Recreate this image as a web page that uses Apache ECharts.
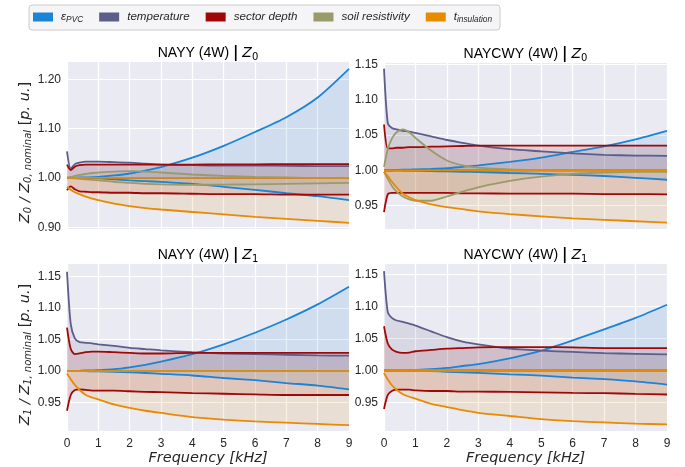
<!DOCTYPE html>
<html><head><meta charset="utf-8">
<script src="https://cdn.jsdelivr.net/npm/echarts@6/dist/echarts.min.js"></script>
<style>html,body{margin:0;padding:0;background:#fff}#c{width:685px;height:467px}</style>
</head><body><div id="c"></div>
<script>
// ---------- data ----------
const freq = [0,0.12,0.25,0.4,0.6,0.8,1,1.5,2,2.5,3,4,5,6,7,8,9];
const xTicks = [0,1,2,3,4,5,6,7,8,9];
const yTicksTL = [0.90,1.00,1.10,1.20];
const yTicksOther = [0.95,1.00,1.05,1.10,1.15];

// NAYY (4W) | Z0
const nayyZ0_epsHi  = [1.000,1.000,1.0005,1.001,1.001,1.0015,1.002,1.005,1.009,1.015,1.022,1.041,1.065,1.093,1.123,1.163,1.221];
const nayyZ0_epsLo  = [1.000,1.000,1.000,0.9995,0.9995,0.999,0.999,0.997,0.995,0.9935,0.992,0.988,0.982,0.976,0.969,0.963,0.955];
const nayyZ0_tempHi = [1.054,1.019,1.028,1.031,1.033,1.033,1.033,1.032,1.031,1.029,1.027,1.026,1.025,1.025,1.0245,1.024,1.024];
const nayyZ0_tempLo = [1,1,1,1,1,1,1,1,1,1,1,1,1,1,1,1,1];
const nayyZ0_sdHi   = [1.027,1.016,1.023,1.026,1.027,1.027,1.027,1.027,1.027,1.027,1.027,1.027,1.0275,1.0275,1.028,1.028,1.028];
const nayyZ0_sdLo   = [0.975,0.983,0.977,0.973,0.972,0.971,0.971,0.970,0.970,0.969,0.969,0.968,0.967,0.967,0.966,0.966,0.966];
const nayyZ0_soilHi = [1.001,1.002,1.004,1.006,1.008,1.010,1.011,1.013,1.014,1.013,1.011,1.007,1.004,1.002,1.001,1.000,1.000];
const nayyZ0_soilLo = [1.000,0.9995,0.999,0.998,0.997,0.996,0.995,0.992,0.990,0.988,0.987,0.986,0.9865,0.987,0.988,0.989,0.990];
const nayyZ0_tinsHi = [1,1,1,1,1,1,1,1,1,1,1,1,1,1,1,1,1];
const nayyZ0_tinsLo = [0.982,0.976,0.971,0.967,0.962,0.958,0.955,0.948,0.943,0.939,0.936,0.931,0.926,0.921,0.917,0.913,0.909];

// NAYCWY (4W) | Z0
const naycwyZ0_epsHi  = [1.000,1.000,1.000,1.0005,1.001,1.001,1.0015,1.002,1.003,1.005,1.007,1.012,1.018,1.026,1.034,1.044,1.056];
const naycwyZ0_epsLo  = [1.000,1.000,1.000,1.000,0.9998,0.9996,0.9995,0.999,0.9985,0.998,0.9976,0.9963,0.995,0.9935,0.992,0.9895,0.9867];
const naycwyZ0_tempHi = [1.144,1.067,1.060,1.058,1.056,1.055,1.053,1.048,1.043,1.039,1.035,1.030,1.027,1.024,1.022,1.021,1.0205];
const naycwyZ0_tempLo = [1,1,1,1,1,1,1,1,1,1,1,1,1,1,1,1,1];
const naycwyZ0_sdHi   = [1.065,1.031,1.031,1.032,1.032,1.033,1.033,1.0335,1.034,1.0345,1.035,1.035,1.035,1.035,1.035,1.035,1.035];
const naycwyZ0_sdLo   = [0.941,0.966,0.968,0.968,0.968,0.968,0.968,0.968,0.968,0.9675,0.9675,0.967,0.967,0.967,0.9665,0.9665,0.966];
const naycwyZ0_soilHi = [1.005,1.030,1.045,1.054,1.058,1.054,1.046,1.028,1.014,1.007,1.004,1.0015,1.0005,1.000,1.000,1.000,1.000];
const naycwyZ0_soilLo = [0.998,0.988,0.978,0.970,0.963,0.959,0.957,0.957,0.963,0.970,0.976,0.985,0.991,0.995,0.997,0.998,0.998];
const naycwyZ0_tinsHi = [1,1,1,1,1,1,1,1,1,1,1,1,1,1,1,1,1];
const naycwyZ0_tinsLo = [0.998,0.992,0.984,0.976,0.967,0.962,0.958,0.952,0.948,0.945,0.942,0.938,0.935,0.932,0.930,0.928,0.926];

// NAYY (4W) | Z1
const nayyZ1_epsHi  = [1.000,1.000,1.000,1.0005,1.001,1.001,1.0016,1.003,1.006,1.010,1.015,1.027,1.0426,1.061,1.082,1.106,1.134];
const nayyZ1_epsLo  = [1.000,1.000,1.000,1.000,0.9998,0.9996,0.9995,0.999,0.998,0.997,0.9957,0.993,0.989,0.9856,0.981,0.977,0.971];
const nayyZ1_tempHi = [1.158,1.0745,1.052,1.046,1.045,1.044,1.0426,1.040,1.037,1.035,1.033,1.030,1.028,1.027,1.026,1.025,1.0245];
const nayyZ1_tempLo = [1,1,1,1,1,1,1,1,1,1,1,1,1,1,1,1,1];
const nayyZ1_sdHi   = [1.069,1.035,1.027,1.028,1.030,1.031,1.031,1.030,1.029,1.028,1.028,1.029,1.029,1.029,1.029,1.029,1.029];
const nayyZ1_sdLo   = [0.937,0.962,0.970,0.971,0.970,0.969,0.969,0.969,0.968,0.967,0.9665,0.965,0.964,0.963,0.962,0.962,0.962];
const nayyZ1_soilHi = [1,1,1,1,1,1,1,1,1,1,1,1,1,1,1,1,1];
const nayyZ1_soilLo = [1,1,1,1,1,1,1,1,1,1,1,1,1,1,1,1,1];
const nayyZ1_tinsHi = [1,1,1,1,1,1,1,1,1,1,1,1,1,1,1,1,1];
const nayyZ1_tinsLo = [0.996,0.987,0.978,0.970,0.962,0.958,0.955,0.947,0.9415,0.937,0.9335,0.927,0.923,0.920,0.918,0.916,0.914];

// NAYCWY (4W) | Z1
const naycwyZ1_epsHi  = [1.000,1.000,1.000,1.0003,1.0006,1.0008,1.001,1.002,1.004,1.007,1.010,1.019,1.031,1.047,1.064,1.082,1.1026];
const naycwyZ1_epsLo  = [1.000,1.000,1.000,1.000,0.9998,0.9996,0.9995,0.999,0.998,0.997,0.9964,0.994,0.992,0.989,0.9865,0.983,0.978];
const naycwyZ1_tempHi = [1.155,1.091,1.082,1.078,1.076,1.073,1.070,1.061,1.052,1.045,1.0406,1.034,1.031,1.029,1.027,1.026,1.025];
const naycwyZ1_tempLo = [1,1,1,1,1,1,1,1,1,1,1,1,1,1,1,1,1];
const naycwyZ1_sdHi   = [1.069,1.042,1.033,1.029,1.0276,1.028,1.030,1.032,1.034,1.035,1.036,1.0365,1.0365,1.036,1.035,1.035,1.035];
const naycwyZ1_sdLo   = [0.940,0.962,0.968,0.970,0.970,0.970,0.969,0.968,0.968,0.967,0.967,0.9665,0.966,0.965,0.9646,0.9635,0.9625];
const naycwyZ1_soilHi = [1,1,1,1,1,1,1,1,1,1,1,1,1,1,1,1,1];
const naycwyZ1_soilLo = [1,1,1,1,1,1,1,1,1,1,1,1,1,1,1,1,1];
const naycwyZ1_tinsHi = [1,1,1,1,1,1,1,1,1,1,1,1,1,1,1,1,1];
const naycwyZ1_tinsLo = [0.996,0.986,0.977,0.970,0.963,0.959,0.956,0.948,0.943,0.938,0.934,0.929,0.924,0.921,0.919,0.917,0.916];

const params = ['eps','temp','sd','soil','tins'];
const paramLabels = {eps:'{i|ε}{s|PVC}', temp:'{i|temperature}', sd:'{i|sector depth}', soil:'{i|soil resistivity}', tins:'{i|t}{s|insulation}'};
const colors = {eps:'#1a84d6', temp:'#5d5d8c', sd:'#a00808', soil:'#9a9b6b', tins:'#e88b00'};

// ---------- layout ----------
const plots = [
  {grid:{left:67, top:62, width:282, height:167}, min:0.8965, max:1.235, ticks:yTicksTL, xlab:false, ylab:'0', title:['NAYY (4W) ','0'],
   d:{eps:[nayyZ0_epsHi,nayyZ0_epsLo],temp:[nayyZ0_tempHi,nayyZ0_tempLo],sd:[nayyZ0_sdHi,nayyZ0_sdLo],soil:[nayyZ0_soilHi,nayyZ0_soilLo],tins:[nayyZ0_tinsHi,nayyZ0_tinsLo]}},
  {grid:{left:384, top:63, width:283, height:166}, min:0.917, max:1.152, ticks:yTicksOther, xlab:false, ylab:null, title:['NAYCWY (4W) ','0'],
   d:{eps:[naycwyZ0_epsHi,naycwyZ0_epsLo],temp:[naycwyZ0_tempHi,naycwyZ0_tempLo],sd:[naycwyZ0_sdHi,naycwyZ0_sdLo],soil:[naycwyZ0_soilHi,naycwyZ0_soilLo],tins:[naycwyZ0_tinsHi,naycwyZ0_tinsLo]}},
  {grid:{left:67, top:264, width:282, height:167}, min:0.9048, max:1.1702, ticks:yTicksOther, xlab:true, ylab:'1', title:['NAYY (4W) ','1'],
   d:{eps:[nayyZ1_epsHi,nayyZ1_epsLo],temp:[nayyZ1_tempHi,nayyZ1_tempLo],sd:[nayyZ1_sdHi,nayyZ1_sdLo],soil:[nayyZ1_soilHi,nayyZ1_soilLo],tins:[nayyZ1_tinsHi,nayyZ1_tinsLo]}},
  {grid:{left:384, top:264, width:283, height:167}, min:0.9056, max:1.1661, ticks:yTicksOther, xlab:true, ylab:null, title:['NAYCWY (4W) ','1'],
   d:{eps:[naycwyZ1_epsHi,naycwyZ1_epsLo],temp:[naycwyZ1_tempHi,naycwyZ1_tempLo],sd:[naycwyZ1_sdHi,naycwyZ1_sdLo],soil:[naycwyZ1_soilHi,naycwyZ1_soilLo],tins:[naycwyZ1_tinsHi,naycwyZ1_tinsLo]}}
];

const textColor = '#262626';
const mathRich = {
  n:{fontFamily:'DejaVu Sans', fontSize:14.5, color:textColor, lineHeight:18},
  z:{fontFamily:'DejaVu Sans', fontStyle:'italic', fontSize:14.5, color:textColor, lineHeight:18},
  s:{fontFamily:'DejaVu Sans', fontStyle:'italic', fontSize:10, color:textColor, lineHeight:12, verticalAlign:'bottom'}
};
const titleRich = {
  n:{fontFamily:'Liberation Sans', fontSize:14, color:textColor, lineHeight:18},
  b:{fontFamily:'DejaVu Sans', fontWeight:'bold', fontSize:15, color:textColor, lineHeight:18},
  z:{fontFamily:'DejaVu Sans', fontStyle:'italic', fontSize:14, color:textColor, lineHeight:18},
  s:{fontFamily:'DejaVu Sans', fontSize:10, color:textColor, lineHeight:12, verticalAlign:'bottom'}
};

function bandRenderer(hi, lo, color) {
  return function (params, api) {
    if (params.dataIndex !== 0) return null;
    const pts = [];
    for (let j = 0; j < freq.length; j++) pts.push(api.coord([freq[j], hi[j]]));
    for (let j = freq.length - 1; j >= 0; j--) pts.push(api.coord([freq[j], lo[j]]));
    return {type:'polygon', shape:{points:pts}, style:{fill:color, opacity:0.12}, silent:true};
  };
}

const grids = [], xAxes = [], yAxes = [], series = [], graphics = [];
plots.forEach((p, i) => {
  grids.push(Object.assign({show:true, backgroundColor:'#EAEAF2', borderWidth:0, containLabel:false}, p.grid));
  xAxes.push({
    type:'value', gridIndex:i, min:0, max:9, interval:1,
    axisLine:{show:false}, axisTick:{show:false},
    axisLabel:{show:p.xlab, color:textColor, fontFamily:'Liberation Sans', fontSize:12, margin:7},
    splitLine:{show:true, lineStyle:{color:'#ffffff', width:1.2}},
    name: p.xlab ? 'Frequency [kHz]' : '', nameLocation:'middle', nameGap:20,
    nameTextStyle:{fontFamily:'DejaVu Sans', fontStyle:'italic', fontSize:14.5, color:textColor}
  });
  const yName = p.ylab ? '{z|Z}{s|' + p.ylab + '}{z| / Z}{s|' + p.ylab + ', nominal}{n| [}{z|p. u.}{n|]}' : '';
  yAxes.push({
    type:'value', gridIndex:i, min:p.min, max:p.max,
    axisLine:{show:false}, axisTick:{show:false, customValues:p.ticks},
    axisLabel:{customValues:p.ticks, color:textColor, fontFamily:'Liberation Sans', fontSize:12, margin:6, formatter:v=>v.toFixed(2)},
    splitLine:{show:true, lineStyle:{color:'#ffffff', width:1.2}},
    name:yName, nameLocation:'middle', nameGap:27, nameRotate:90,
    nameTextStyle:{rich:mathRich, padding:[0,14,0,0]}
  });
  graphics.push({
    type:'text', x:p.grid.left + p.grid.width/2, y:p.grid.top - 9,
    style:{text:'{n|' + p.title[0] + '}{b||}{n| }{z|Z}{s|' + p.title[1] + '}', rich:titleRich, align:'center', verticalAlign:'middle'}
  });
  params.forEach(k => {
    const hi = p.d[k][0], lo = p.d[k][1];
    series.push({
      type:'custom', name:'band-'+k, xAxisIndex:i, yAxisIndex:i, silent:true, clip:true,
      itemStyle:{color:colors[k]},
      data:freq.map((f,j)=>[f, lo[j], hi[j]]), encode:{x:0, y:[1,2]},
      renderItem:bandRenderer(hi, lo, colors[k])
    });
    [lo, hi].forEach(arr => {
      series.push({
        type:'line', name:k, xAxisIndex:i, yAxisIndex:i, symbol:'none', smooth:0.25, silent:true,
        lineStyle:{color:colors[k], width:1.8}, itemStyle:{color:colors[k]},
        data:freq.map((f,j)=>[f, arr[j]])
      });
    });
  });
});

const option = {
  animation:false,
  backgroundColor:'#ffffff',
  legend:{
    left:29, top:5, orient:'horizontal',
    data:params.map(k=>({name:k, icon:'rect'})),
    itemWidth:20, itemHeight:9, itemGap:16,
    padding:[6,8,6,4],
    backgroundColor:'#f5f5f8', borderColor:'#cccccc', borderWidth:1, borderRadius:3,
    formatter:name=>paramLabels[name],
    textStyle:{color:textColor, rich:{
      i:{fontFamily:'Liberation Sans', fontStyle:'italic', fontSize:11.6, color:textColor, lineHeight:14, padding:[0,0,0,3]},
      s:{fontFamily:'Liberation Sans', fontStyle:'italic', fontSize:8.3, color:textColor, lineHeight:9, verticalAlign:'bottom'}
    }},
    selectedMode:false
  },
  grid:grids, xAxis:xAxes, yAxis:yAxes, series:series, graphic:graphics
};
const chart = echarts.init(document.getElementById('c'), null, {renderer:'canvas'});
chart.setOption(option);
</script>
</body></html>
